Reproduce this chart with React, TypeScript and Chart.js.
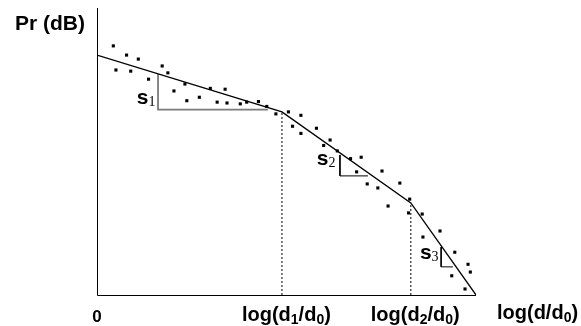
import React, { useEffect, useRef } from "react";
import { Chart, registerables } from "chart.js";

Chart.register(...registerables);

// Measured points (x: log distance units 0..100, y: received power units 0..100)
const pointX = [
  4.3, 7.8, 10.9, 5.0, 8.9, 13.6, 17.2, 18.7, 23.2, 20.3, 23.7, 27.0, 29.9, 33.8, 31.7, 34.3, 37.8, 39.5, 42.6, 44.8, 47.2,
  50.5, 53.8, 51.6, 53.8, 57.9, 61.5, 59.8, 63.4, 66.9, 69.7, 68.5, 75.2, 71.3, 74.1, 79.9, 76.8, 82.5,
  82.2, 85.8, 90.5, 86.0, 94.4, 97.9, 98.5, 93.6, 97.1,
];
const pointY = [
  86.8, 83.6, 82.2, 78.4, 78.0, 75.2, 79.8, 77.4, 73.5, 71.1, 67.7, 68.9, 72.0, 71.7, 67.2, 66.9, 66.6, 67.2, 67.4, 65.7, 63.1,
  63.8, 62.6, 58.8, 56.3, 58.1, 54.0, 52.1, 50.2, 47.5, 48.0, 42.9, 43.2, 38.7, 37.3, 39.0, 31.0, 33.4,
  28.6, 28.2, 22.3, 20.2, 14.9, 10.7, 8.0, 6.7, 2.1,
];

// Piecewise linear fit
const fitX = [0, 48.8, 82.8, 100];
const fitY = [83.6, 63.8, 32.1, 0];

// Slope triangles
const s1X = [16.1, 16.1, 45.1];
const s1Y = [77.0, 64.6, 64.6];
const s2X = [64.1, 64.1, 71.5];
const s2Y = [48.8, 41.5, 41.5];
const s3X = [90.8, 90.8, 93.9];
const s3Y = [16.7, 9.8, 9.8];

// Slope label anchors
const slopeLabels = ["1", "2", "3"];
const slopeLabelX = [10.5, 58.0, 85.2];
const slopeLabelY = [66.6, 45.3, 12.4];

// Axis ticks
const tickValues = [0, 48.8, 82.8];
const tickSubs = ["", "1", "2"];

const X_MAX = 100;
const Y_MAX = 100;

const zip = (xs: number[], ys: number[]) => xs.map((x, i) => ({ x, y: ys[i] }));

const SANS = '"Liberation Sans", Arial, sans-serif';
const SERIF = '"Liberation Serif", "Times New Roman", serif';

type Part = { t: string; sub?: boolean };

function drawParts(ctx: CanvasRenderingContext2D, x: number, y: number, parts: Part[], size: number) {
  let cx = x;
  for (const p of parts) {
    const s = p.sub ? Math.round(size * 0.68) : size;
    ctx.font = `bold ${s}px ${SANS}`;
    ctx.fillText(p.t, cx, y + (p.sub ? size * 0.18 : 0));
    cx += ctx.measureText(p.t).width;
  }
}

const annotPlugin = {
  id: "annot",
  afterDraw(chart: any) {
    const { ctx, scales } = chart;
    const xs = scales.x;
    const ys = scales.y;
    const x0 = Math.round(xs.getPixelForValue(0)) + 0.5;
    const x1 = xs.getPixelForValue(X_MAX);
    const yb = Math.round(ys.getPixelForValue(0)) + 0.5;
    const yt = ys.getPixelForValue(Y_MAX);
    ctx.save();
    ctx.strokeStyle = "#000";
    ctx.lineWidth = 1;
    ctx.beginPath();
    ctx.moveTo(x0, yt);
    ctx.lineTo(x0, yb);
    ctx.lineTo(x1, yb);
    ctx.stroke();

    ctx.fillStyle = "#000";
    ctx.textBaseline = "alphabetic";
    ctx.textAlign = "left";

    // Y axis title
    ctx.font = `bold 21px ${SANS}`;
    ctx.fillText("Pr (dB)", 15, 30);

    // X tick labels
    tickValues.forEach((v, i) => {
      const px = xs.getPixelForValue(v);
      if (!tickSubs[i]) {
        ctx.font = `bold 17px ${SANS}`;
        ctx.textAlign = "center";
        ctx.fillText("0", px, yb + 26);
        ctx.textAlign = "left";
      } else {
        drawParts(ctx, px - 40, yb + 25, [
          { t: "log(d" },
          { t: tickSubs[i], sub: true },
          { t: "/d" },
          { t: "0", sub: true },
          { t: ")" },
        ], 20);
      }
    });

    // X axis title
    drawParts(ctx, x1 + 21, yb + 23, [{ t: "log(d/d" }, { t: "0", sub: true }, { t: ")" }], 20);

    // Slope labels
    slopeLabels.forEach((n, i) => {
      const px = xs.getPixelForValue(slopeLabelX[i]);
      const py = ys.getPixelForValue(slopeLabelY[i]);
      ctx.font = `bold 21px ${SANS}`;
      ctx.fillText("s", px, py);
      const w = ctx.measureText("s").width;
      ctx.font = `14px ${SERIF}`;
      ctx.fillText(n, px + w, py + 2);
    });
    ctx.restore();
  },
};

export default function App() {
  const ref = useRef<HTMLCanvasElement | null>(null);
  useEffect(() => {
    if (!ref.current) return;
    const lineDs = (xs: number[], ys: number[], color: string, width: number, dash: number[] = []) => ({
      type: "line" as const,
      data: zip(xs, ys),
      borderColor: color,
      borderWidth: width,
      borderDash: dash,
      pointRadius: 0,
      fill: false,
      tension: 0,
      showLine: true,
    });
    const chart = new Chart(ref.current, {
      type: "scatter",
      data: {
        datasets: [
          {
            type: "scatter",
            data: zip(pointX, pointY),
            pointStyle: "rect",
            pointRadius: 2.2,
            pointBorderWidth: 0,
            backgroundColor: "#000",
            borderColor: "#000",
          } as any,
          lineDs(fitX, fitY, "#000", 1.3),
          lineDs([fitX[1], fitX[1]], [0, fitY[1]], "#000", 1, [2, 2]),
          lineDs([fitX[2], fitX[2]], [0, fitY[2]], "#000", 1, [2, 2]),
          lineDs(s1X, s1Y, "#7a7a7a", 1.8),
          lineDs(s2X, s2Y, "#000", 1),
          lineDs(s3X, s3Y, "#000", 1),
        ],
      },
      options: {
        animation: false,
        responsive: false,
        maintainAspectRatio: false,
        layout: { padding: { left: 97, right: 105, top: 8, bottom: 31 } },
        plugins: { legend: { display: false }, tooltip: { enabled: false } },
        scales: {
          x: { type: "linear", min: 0, max: X_MAX, display: false },
          y: { type: "linear", min: 0, max: Y_MAX, display: false },
        },
      },
      plugins: [annotPlugin],
    });
    return () => chart.destroy();
  }, []);
  return (
    <div style={{ position: "absolute", left: 0, top: 0, width: 581, height: 326, background: "#fff" }}>
      <canvas ref={ref} width={581} height={326} style={{ width: 581, height: 326, display: "block" }} />
    </div>
  );
}
